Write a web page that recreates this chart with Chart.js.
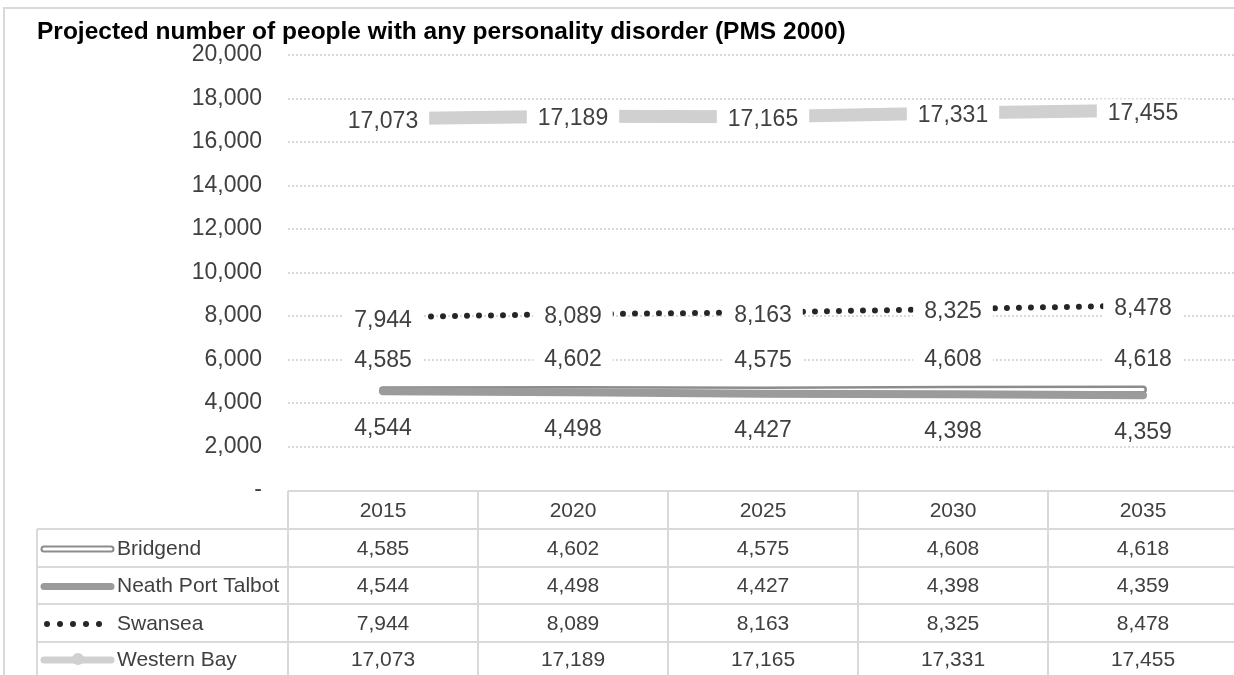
<!DOCTYPE html>
<html>
<head>
<meta charset="utf-8">
<script src="https://cdn.jsdelivr.net/npm/chart.js@4.4.0/dist/chart.umd.min.js"></script>
<style>
  body { margin: 0; background: #fff; overflow: hidden; }
  #wrap { width: 1234px; height: 675px; overflow: hidden; position: relative; }
</style>
</head>
<body>
<div id="wrap"><canvas id="myChart" width="1240" height="680"></canvas></div>
<script>
// chart data
const years = ['2015', '2020', '2025', '2030', '2035'];
const bridgend = [4585, 4602, 4575, 4608, 4618];
const neathPortTalbot = [4544, 4498, 4427, 4398, 4359];
const swansea = [7944, 8089, 8163, 8325, 8478];
const westernBay = [17073, 17189, 17165, 17331, 17455];
const seriesNames = ['Bridgend', 'Neath Port Talbot', 'Swansea', 'Western Bay'];
const yTicks = [0, 2000, 4000, 6000, 8000, 10000, 12000, 14000, 16000, 18000, 20000];

const titleText = 'Projected number of people with any personality disorder (PMS 2000)';
const FONT = "'Liberation Sans', Arial, sans-serif";
const textColor = '#404040';
const lineGrey = '#d9d9d9';

function fmt(v) {
  return v === 0 ? '-' : v.toLocaleString('en-US');
}

// labels with white boxes, like the excel data labels
const labelPlugin = {
  id: 'valueLabels',
  afterDatasetsDraw(chart) {
    const ctx = chart.ctx;
    ctx.save();
    ctx.font = '23px ' + FONT;
    ctx.textAlign = 'center';
    ctx.textBaseline = 'middle';
    chart.data.datasets.forEach((ds, di) => {
      if (ds.labelOffset === undefined) return;
      const meta = chart.getDatasetMeta(di);
      meta.data.forEach((pt, i) => {
        const txt = fmt(ds.data[i]);
        const w = ctx.measureText(txt).width + 22;
        const x = pt.x;
        const y = pt.y + ds.labelOffset;
        ctx.fillStyle = '#fff';
        ctx.fillRect(x - w / 2, y - 14, w, 28);
        ctx.fillStyle = textColor;
        ctx.fillText(txt, x, y);
      });
    });
    ctx.restore();
  }
};

// title, data table and outer border
const tablePlugin = {
  id: 'dataTable',
  afterDraw(chart) {
    const ctx = chart.ctx;
    const xs = chart.scales.x;
    const left = 37;
    const colLeft = chart.chartArea.left;
    const right = chart.chartArea.right;
    const top = chart.chartArea.bottom + 1;
    const rows = [top, 529, 567, 604, 642, 700];
    const colW = (right - colLeft) / years.length;

    ctx.save();
    // outer border
    ctx.strokeStyle = lineGrey;
    ctx.lineWidth = 2;
    ctx.strokeRect(4, 8, 1300, 700);

    // title
    ctx.fillStyle = '#000';
    ctx.font = 'bold 24.5px ' + FONT;
    ctx.textAlign = 'left';
    ctx.textBaseline = 'alphabetic';
    ctx.fillText(titleText, left, 39);

    // table lines
    ctx.strokeStyle = lineGrey;
    ctx.lineWidth = 2;
    ctx.beginPath();
    ctx.moveTo(colLeft, rows[0]);
    ctx.lineTo(right, rows[0]);
    for (let r = 1; r < rows.length - 1; r++) {
      ctx.moveTo(left, rows[r]);
      ctx.lineTo(right, rows[r]);
    }
    ctx.moveTo(left, rows[1]);
    ctx.lineTo(left, rows[rows.length - 1]);
    for (let c = 0; c <= years.length; c++) {
      ctx.moveTo(colLeft + c * colW, rows[0]);
      ctx.lineTo(colLeft + c * colW, rows[rows.length - 1]);
    }
    ctx.stroke();

    // table text
    ctx.font = '21px ' + FONT;
    ctx.fillStyle = textColor;
    ctx.textAlign = 'center';
    ctx.textBaseline = 'middle';
    const seriesData = [bridgend, neathPortTalbot, swansea, westernBay];
    years.forEach((yr, i) => {
      const cx = xs.getPixelForValue(i);
      ctx.fillText(yr, cx, (rows[0] + rows[1]) / 2 + 1);
      seriesData.forEach((arr, s) => {
        const cy = s < 3 ? (rows[s + 1] + rows[s + 2]) / 2 + 1 : 660;
        ctx.fillText(fmt(arr[i]), cx, cy);
      });
    });

    // legend keys
    ctx.textAlign = 'left';
    seriesNames.forEach((name, s) => {
      const cy = s < 3 ? (rows[s + 1] + rows[s + 2]) / 2 + 1 : 660;
      ctx.fillStyle = textColor;
      ctx.fillText(name, 117, cy);
      const x0 = 44, x1 = 111;
      ctx.lineCap = 'round';
      if (s === 0) {
        ctx.strokeStyle = '#8c8c8c';
        ctx.lineWidth = 7;
        ctx.beginPath(); ctx.moveTo(x0, cy); ctx.lineTo(x1, cy); ctx.stroke();
        ctx.strokeStyle = '#fff';
        ctx.lineWidth = 3;
        ctx.beginPath(); ctx.moveTo(x0, cy); ctx.lineTo(x1, cy); ctx.stroke();
      } else if (s === 1) {
        ctx.strokeStyle = '#9b9b9b';
        ctx.lineWidth = 7;
        ctx.beginPath(); ctx.moveTo(x0, cy); ctx.lineTo(x1, cy); ctx.stroke();
      } else if (s === 2) {
        ctx.fillStyle = '#262626';
        for (let k = 0; k < 5; k++) {
          ctx.beginPath(); ctx.arc(47 + k * 13, cy, 3, 0, Math.PI * 2); ctx.fill();
        }
      } else {
        ctx.strokeStyle = '#d0d0d0';
        ctx.lineWidth = 7;
        ctx.beginPath(); ctx.moveTo(x0, cy); ctx.lineTo(x1, cy); ctx.stroke();
        ctx.fillStyle = '#d0d0d0';
        ctx.beginPath(); ctx.arc(78, cy - 1, 6, 0, Math.PI * 2); ctx.fill();
      }
    });
    ctx.restore();
  }
};

const ctx = document.getElementById('myChart').getContext('2d');
const myChart = new Chart(ctx, {
  type: 'line',
  data: {
    labels: years,
    datasets: [
      {
        label: 'Western Bay',
        data: westernBay,
        borderColor: '#d0d0d0',
        borderWidth: 13,
        borderCapStyle: 'butt',
        pointRadius: 0,
        labelOffset: 3,
        order: 0
      },
      {
        label: 'Swansea',
        data: swansea,
        borderColor: '#262626',
        borderWidth: 6,
        borderCapStyle: 'round',
        borderDash: [0, 12],
        pointRadius: 0,
        labelOffset: 3,
        order: 0
      },
      {
        label: 'Neath Port Talbot',
        data: neathPortTalbot,
        borderColor: '#9b9b9b',
        borderWidth: 8,
        borderCapStyle: 'round',
        pointRadius: 0,
        labelOffset: 37,
        order: 1
      },
      {
        label: 'Bridgend inner',
        data: bridgend,
        borderColor: '#ffffff',
        borderWidth: 3,
        borderCapStyle: 'round',
        pointRadius: 0,
        order: 2
      },
      {
        label: 'Bridgend',
        data: bridgend,
        borderColor: '#8c8c8c',
        borderWidth: 8,
        borderCapStyle: 'round',
        pointRadius: 0,
        labelOffset: -30,
        order: 3
      }
    ]
  },
  options: {
    responsive: false,
    animation: false,
    devicePixelRatio: 1,
    layout: { padding: { left: 37, top: 55, right: 2, bottom: 190 } },
    plugins: {
      legend: { display: false },
      title: { display: false },
      tooltip: { enabled: false }
    },
    scales: {
      x: {
        type: 'category',
        offset: true,
        display: false
      },
      y: {
        min: 0,
        max: 20000,
        afterFit: function (scale) { scale.width = 251; },
        afterBuildTicks: function (scale) {
          scale.ticks = yTicks.map(v => ({ value: v }));
        },
        ticks: {
          padding: 26,
          color: textColor,
          font: { family: FONT, size: 23 },
          callback: function (value) { return fmt(value); }
        },
        grid: {
          drawTicks: false,
          lineWidth: 2,
          color: function (c) { return c.tick && c.tick.value === 0 ? 'rgba(0,0,0,0)' : lineGrey; }
        },
        border: { display: false, dash: [2, 2] }
      }
    }
  },
  plugins: [labelPlugin, tablePlugin]
});
</script>
</body>
</html>
